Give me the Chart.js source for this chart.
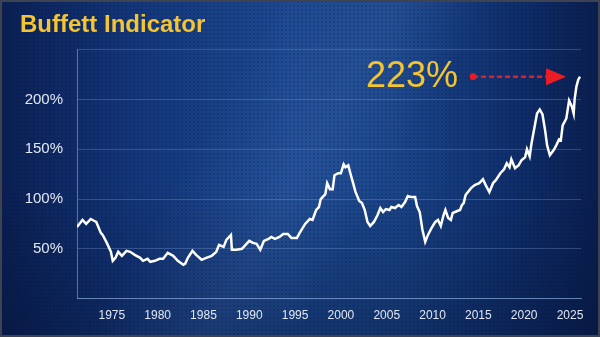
<!DOCTYPE html>
<html>
<head>
<meta charset="utf-8">
<script src="https://cdn.jsdelivr.net/npm/chart.js@4"></script>
<style>
  html, body { margin: 0; padding: 0; }
  body { width: 600px; height: 337px; overflow: hidden; }
  .panel {
    position: relative;
    width: 600px;
    height: 337px;
    box-sizing: border-box;
    background:
      radial-gradient(rgba(5, 20, 60, 0.22) 1px, transparent 1.3px) 0 0 / 4px 4px,
      linear-gradient(120deg, rgba(255,255,255,0) 35%, rgba(120,160,230,0.10) 50%, rgba(255,255,255,0) 62%),
      linear-gradient(180deg, rgba(0,0,0,0) 55%, rgba(3,15,45,0.35) 100%),
      linear-gradient(90deg, #0a1f52 0%, #133679 22%, #1c4990 48%, #1a4589 66%, #0f2f6c 85%, #0a1e4e 100%);
    box-shadow: inset 0 0 0 2px #3d4352;
  }
  canvas { position: absolute; left: 0; top: 0; }
</style>
</head>
<body>
<div class="panel">
  <canvas id="buffettChart" width="600" height="337"></canvas>
</div>
<script>
// market cap to GDP, %, read by year
const years = [
  1971.2, 1971.8, 1972.2, 1972.7, 1973.1, 1973.3, 1973.8, 1974.0, 1974.4, 1974.9,
  1975.1, 1975.4, 1975.7, 1976.1, 1976.6, 1977.0, 1977.5, 1978.1, 1978.4, 1978.9,
  1979.2, 1979.7, 1980.2, 1980.6, 1981.1, 1981.7, 1982.2, 1982.8, 1983.0, 1983.3,
  1983.8, 1984.2, 1984.8, 1985.3, 1985.9, 1986.4, 1986.7, 1987.2, 1987.5, 1988.0,
  1988.1, 1988.6, 1989.2, 1989.5, 1990.0, 1990.4, 1990.8, 1991.2, 1991.6, 1992.1,
  1992.4, 1992.8, 1993.3, 1993.7, 1994.2, 1994.6, 1995.2, 1995.5, 1995.7, 1996.1,
  1996.6, 1996.9, 1997.3, 1997.6, 1997.8, 1998.3, 1998.5, 1998.8, 1999.1, 1999.3,
  1999.7, 2000.0, 2000.3, 2000.5, 2000.8, 2001.0, 2001.3, 2001.6, 2002.0, 2002.3,
  2002.6, 2002.9, 2003.2, 2003.6, 2004.0, 2004.3, 2004.6, 2004.9, 2005.3, 2005.5,
  2005.9, 2006.3, 2006.6, 2007.0, 2007.3, 2007.7, 2008.1, 2008.3, 2008.6, 2008.9,
  2009.2, 2009.5, 2009.9, 2010.3, 2010.6, 2010.9, 2011.2, 2011.4, 2011.7, 2012.0,
  2012.2, 2012.7, 2013.0, 2013.2, 2013.4, 2013.6, 2014.2, 2014.6, 2015.1, 2015.5,
  2015.8, 2016.2, 2016.6, 2016.9, 2017.4, 2017.8, 2018.1, 2018.4, 2018.6, 2019.0,
  2019.4, 2019.7, 2020.1, 2020.3, 2020.6, 2020.8, 2021.1, 2021.4, 2021.7, 2022.0,
  2022.3, 2022.5, 2022.8, 2023.2, 2023.5, 2023.8, 2024.0, 2024.2, 2024.6, 2024.9,
  2025.2, 2025.4, 2025.5, 2025.7, 2025.9, 2026.1
];
const ratio = [
  72, 79, 75, 80, 78, 77, 66, 64, 57, 47,
  38, 41, 47, 43, 48, 47, 44, 41, 38, 40,
  37, 38, 40, 40, 46, 43, 38, 34, 35, 41,
  48, 44, 39, 41, 43, 47, 54, 52, 59, 64,
  49, 49, 50, 53, 58, 56, 55, 49, 58, 60,
  62, 60, 62, 65, 65, 61, 61, 66, 69, 75,
  80, 79, 89, 92, 100, 105, 116, 110, 110, 124,
  126, 126, 135, 132, 134, 127, 117, 107, 98, 96,
  89, 77, 73, 77, 84, 91, 87, 90, 89, 92,
  91, 94, 92, 97, 103, 102, 102, 93, 87, 69,
  57, 64, 71, 77, 79, 73, 84, 89, 81, 79,
  86, 88, 89, 94, 96, 104, 111, 114, 116, 120,
  114, 107, 116, 119, 126, 130, 136, 132, 140, 131,
  134, 139, 142, 150, 143, 156, 171, 186, 190, 185,
  168, 154, 144, 149, 154, 160, 159, 174, 181, 199,
  193, 186, 200, 213, 220, 223
];
const yearTicks = [1975, 1980, 1985, 1990, 1995, 2000, 2005, 2010, 2015, 2020, 2025];
const pctTicks = [0, 50, 100, 150, 200, 250];
const pctLabels = ['', '50%', '100%', '150%', '200%', ''];

const YELLOW = '#f5c431';
const RED = '#ec1c24';

// big "223%" callout with a dashed red arrow pointing at the latest reading
const latestCallout = {
  id: 'latestCallout',
  afterDatasetsDraw(chart) {
    const pts = chart.getDatasetMeta(0).data;
    const last = pts[pts.length - 1];
    const value = ratio[ratio.length - 1];
    const ctx = chart.ctx;
    const y = last.y;
    const tipX = last.x - 14;
    const startX = last.x - 107;

    ctx.save();
    ctx.strokeStyle = RED;
    ctx.fillStyle = RED;
    ctx.lineWidth = 2.5;
    ctx.setLineDash([5, 3]);
    ctx.beginPath();
    ctx.moveTo(startX, y);
    ctx.lineTo(tipX - 18, y);
    ctx.stroke();
    ctx.setLineDash([]);
    ctx.beginPath();
    ctx.arc(startX, y, 3.3, 0, Math.PI * 2);
    ctx.fill();
    ctx.beginPath();
    ctx.moveTo(tipX, y);
    ctx.lineTo(tipX - 20, y - 8.5);
    ctx.lineTo(tipX - 20, y + 8.5);
    ctx.closePath();
    ctx.fill();

    ctx.fillStyle = YELLOW;
    ctx.font = '36px "Liberation Sans", Arial, sans-serif';
    ctx.textAlign = 'right';
    ctx.textBaseline = 'alphabetic';
    ctx.fillText(value + '%', startX - 15, y + 10.5);
    ctx.restore();
  }
};

const ctx = document.getElementById('buffettChart').getContext('2d');
new Chart(ctx, {
  type: 'line',
  data: {
    datasets: [{
      label: 'Buffett Indicator',
      data: years.map((x, i) => ({ x: x, y: ratio[i] })),
      borderColor: '#ffffff',
      borderWidth: 2.5,
      pointRadius: 0,
      tension: 0,
      fill: false
    }]
  },
  options: {
    responsive: false,
    animation: false,
    layout: { padding: { left: 20, right: 19, top: 0, bottom: 4 } },
    plugins: {
      legend: { display: false },
      tooltip: { enabled: false },
      title: {
        display: true,
        text: 'Buffett Indicator',
        align: 'start',
        color: YELLOW,
        font: { family: '"Liberation Sans", Arial, sans-serif', size: 24, weight: 'bold' },
        padding: { top: 11, bottom: 10 }
      }
    },
    scales: {
      x: {
        type: 'linear',
        min: 1971.2,
        max: 2026.2,
        afterBuildTicks: (scale) => { scale.ticks = yearTicks.map(v => ({ value: v })); },
        grid: { display: false, drawTicks: false },
        border: { display: true, color: 'rgba(150, 180, 230, 0.55)', width: 1 },
        ticks: {
          padding: 10,
          color: '#e2e8f3',
          font: { family: '"Liberation Sans", Arial, sans-serif', size: 12 },
          callback: (v) => String(v),
          maxRotation: 0
        }
      },
      y: {
        min: 0,
        max: 250,
        afterBuildTicks: (scale) => { scale.ticks = pctTicks.map(v => ({ value: v })); },
        afterFit: (scale) => { scale.width = 57; },
        grid: { color: 'rgba(130, 165, 225, 0.30)', lineWidth: 1, drawTicks: false },
        border: { display: true, color: 'rgba(150, 180, 230, 0.55)', width: 1 },
        ticks: {
          padding: 14,
          color: '#e2e8f3',
          font: { family: '"Liberation Sans", Arial, sans-serif', size: 15 },
          callback: (v) => pctLabels[pctTicks.indexOf(v)]
        }
      }
    }
  },
  plugins: [latestCallout]
});
</script>
</body>
</html>
